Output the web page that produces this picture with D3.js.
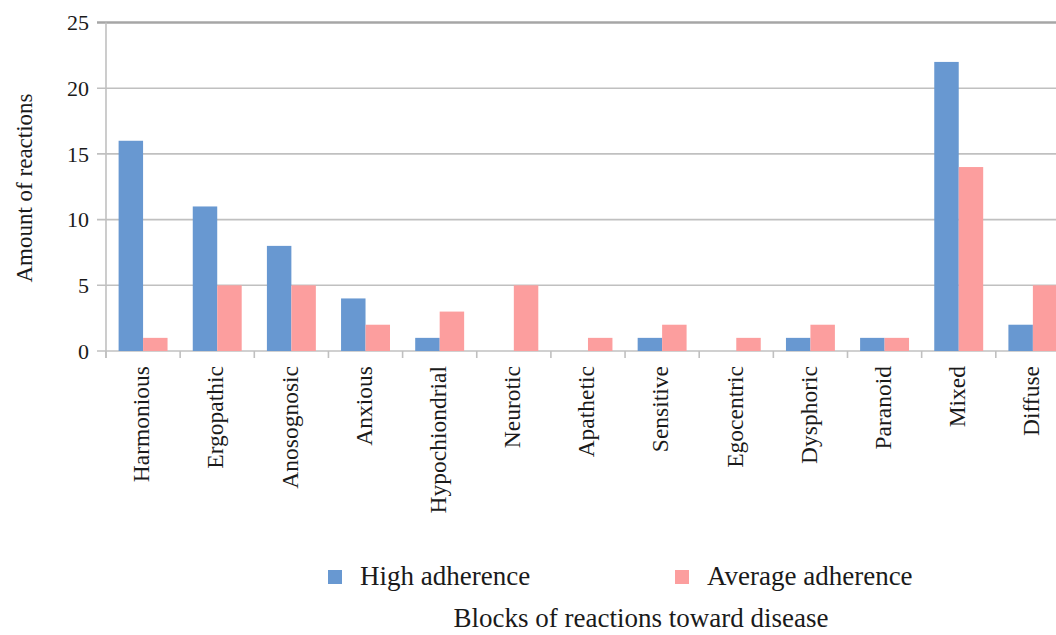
<!DOCTYPE html>
<html>
<head>
<meta charset="utf-8">
<script src="https://cdn.jsdelivr.net/npm/d3@7"></script>
<style>
  html, body { margin: 0; padding: 0; background: #fff; }
  svg { display: block; }
  text { font-family: "Liberation Serif", "Times New Roman", serif; fill: #1a1a1a; }
</style>
</head>
<body>
<svg id="chart" width="1056" height="635"></svg>
<script>
// Reaction blocks and counts per adherence group
const categories = ["Harmonious", "Ergopathic", "Anosognosic", "Anxious", "Hypochiondrial",
  "Neurotic", "Apathetic", "Sensitive", "Egocentric", "Dysphoric", "Paranoid", "Mixed", "Diffuse"];
const seriesNames = ["High adherence", "Average adherence"];
const highAdherence = [16, 11, 8, 4, 1, 0, 0, 1, 0, 1, 1, 22, 2];
const averageAdherence = [1, 5, 5, 2, 3, 5, 1, 2, 1, 2, 1, 14, 5];
const yTicks = [0, 5, 10, 15, 20, 25];
const colors = ["#6898d1", "#fc9e9e"];

const svg = d3.select("#chart");
const plotLeft = 106, plotTop = 22.5, plotBottom = 351;
const step = 74.15;
const plotRight = plotLeft + step * categories.length;

const x0 = d3.scaleBand().domain(categories).range([plotLeft, plotRight])
  .paddingInner(0.34).paddingOuter(0.17);
const x1 = d3.scaleBand().domain(seriesNames).range([0, x0.bandwidth()]);
const y = d3.scaleLinear().domain([0, 25]).range([plotBottom, plotTop]);

// horizontal gridlines with short ticks to the left of the axis
const grid = svg.append("g");
grid.selectAll("line").data(yTicks).join("line")
  .attr("x1", plotLeft - 9).attr("x2", 1056)
  .attr("y1", d => y(d)).attr("y2", d => y(d))
  .attr("stroke", d => d === 25 ? "#a6a6a6" : "#c0c0c0")
  .attr("stroke-width", d => d === 25 ? 2.5 : 1.6);

// vertical axis line
svg.append("line")
  .attr("x1", plotLeft).attr("x2", plotLeft)
  .attr("y1", y(25)).attr("y2", plotBottom + 7)
  .attr("stroke", "#c0c0c0").attr("stroke-width", 1.6);

// y tick labels
svg.append("g").selectAll("text").data(yTicks).join("text")
  .attr("x", 89).attr("y", d => y(d)).attr("dy", "0.35em")
  .attr("text-anchor", "end").style("font-size", "22px")
  .text(d => d);

// bars
const rows = categories.map((c, i) => ({ cat: c, values: [highAdherence[i], averageAdherence[i]] }));
const groups = svg.append("g").selectAll("g").data(rows).join("g")
  .attr("transform", d => `translate(${x0(d.cat)},0)`);
groups.selectAll("rect").data(d => d.values.map((v, k) => ({ key: seriesNames[k], v, k })))
  .join("rect")
  .attr("x", d => x1(d.key)).attr("width", x1.bandwidth())
  .attr("y", d => y(d.v)).attr("height", d => y(0) - y(d.v))
  .attr("fill", d => colors[d.k]);

// category boundary ticks below the baseline
const bounds = d3.range(categories.length + 1).map(i => plotLeft + i * step);
svg.append("g").selectAll("line").data(bounds).join("line")
  .attr("x1", d => d).attr("x2", d => d)
  .attr("y1", plotBottom).attr("y2", plotBottom + 7)
  .attr("stroke", "#c0c0c0").attr("stroke-width", 1.6);

// rotated category labels
svg.append("g").selectAll("text").data(categories).join("text")
  .attr("transform", d => `translate(${x0(d) + x0.bandwidth() / 2 - 2},366) rotate(-90)`)
  .attr("dy", "0.35em").attr("text-anchor", "end")
  .style("font-size", "23.5px")
  .text(d => d);

// y axis title
svg.append("text")
  .attr("transform", "translate(24,188) rotate(-90)")
  .attr("dy", "0.35em").attr("text-anchor", "middle")
  .style("font-size", "23px")
  .text("Amount of reactions");

// legend
const legendX = [328, 675];
const legend = svg.append("g").selectAll("g").data(seriesNames).join("g")
  .attr("transform", (d, i) => `translate(${legendX[i]},570)`);
legend.append("rect").attr("width", 14).attr("height", 14)
  .attr("fill", (d, i) => colors[i]);
legend.append("text").attr("x", 32)
  .attr("y", 15).style("font-size", "27px")
  .text(d => d);

// x axis title
svg.append("text")
  .attr("x", 641).attr("y", 627).attr("text-anchor", "middle")
  .style("font-size", "27px")
  .text("Blocks of reactions toward disease");
</script>
</body>
</html>
